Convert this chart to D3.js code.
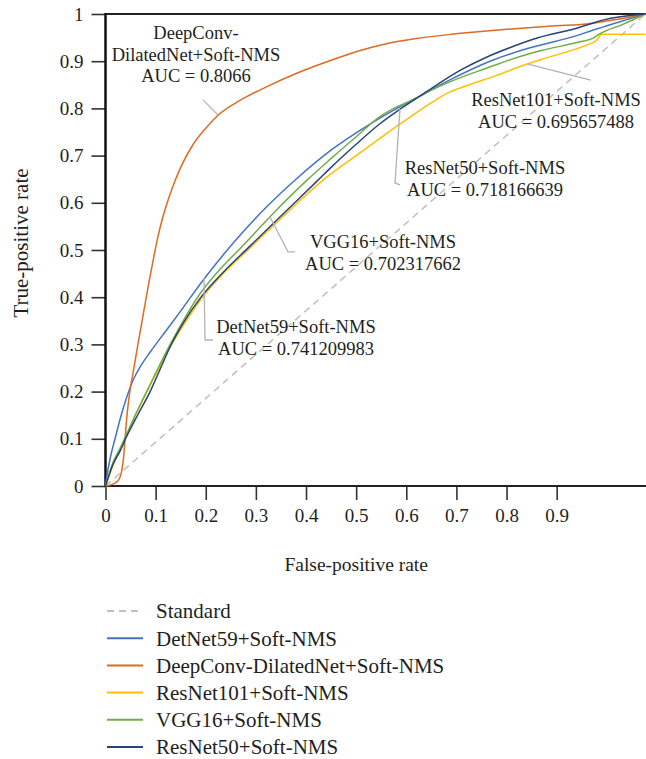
<!DOCTYPE html>
<html><head><meta charset="utf-8">
<script src="https://cdn.jsdelivr.net/npm/d3@7"></script>
<style>
body{margin:0;background:#fff}
svg{display:block}
text{font-family:"Liberation Serif","Times New Roman",serif;fill:#231f20}
</style>
</head><body>
<svg id="chart" width="646" height="759"></svg>
<script>
// ---------- data ----------
const seriesNames = ["Standard","DetNet59+Soft-NMS","DeepConv-DilatedNet+Soft-NMS","ResNet101+Soft-NMS","VGG16+Soft-NMS","ResNet50+Soft-NMS"];
const seriesColors = ["#bfbfbf","#4472c4","#dd6b20","#ffc000","#70ad47","#264478"];
const xTicks = [0,0.1,0.2,0.3,0.4,0.5,0.6,0.7,0.8,0.9];
const yTicks = [0,0.1,0.2,0.3,0.4,0.5,0.6,0.7,0.8,0.9,1];

const standard = [[0,0],[1.077,1]];
const detNet59 = [[0,0],[0.005,0.035],[0.01,0.062],[0.019,0.1],[0.03,0.145],[0.043,0.19],[0.055,0.224],[0.07,0.254],[0.09,0.285],[0.12,0.328],[0.155,0.378],[0.189,0.428],[0.235,0.49],[0.28,0.545],[0.322,0.592],[0.38,0.65],[0.448,0.71],[0.5,0.748],[0.548,0.78],[0.59,0.805],[0.627,0.826],[0.69,0.862],[0.767,0.9],[0.827,0.922],[0.867,0.934],[0.933,0.952],[0.973,0.966],[1.0,0.975],[1.077,1]];
const deepConv = [[0,0],[0.012,0.003],[0.024,0.01],[0.032,0.03],[0.036,0.06],[0.039,0.1],[0.042,0.14],[0.046,0.18],[0.05,0.21],[0.055,0.24],[0.065,0.302],[0.075,0.362],[0.085,0.422],[0.095,0.478],[0.105,0.53],[0.115,0.572],[0.13,0.622],[0.15,0.675],[0.175,0.724],[0.2,0.758],[0.225,0.786],[0.27,0.818],[0.32,0.845],[0.385,0.876],[0.45,0.902],[0.5,0.92],[0.56,0.937],[0.62,0.948],[0.69,0.957],[0.76,0.964],[0.83,0.97],[0.9,0.975],[0.96,0.979],[1.0,0.985],[1.04,0.992],[1.077,1]];
const resNet101 = [[0,0],[0.015,0.043],[0.03,0.079],[0.04,0.103],[0.06,0.15],[0.085,0.205],[0.108,0.253],[0.132,0.3],[0.163,0.353],[0.195,0.402],[0.24,0.456],[0.289,0.505],[0.36,0.577],[0.434,0.648],[0.5,0.7],[0.548,0.737],[0.6,0.776],[0.647,0.81],[0.681,0.832],[0.72,0.848],[0.78,0.87],[0.841,0.894],[0.867,0.903],[0.933,0.924],[0.96,0.934],[0.98,0.945],[0.99,0.957],[1.077,0.957]];
const vgg16 = [[0,0],[0.015,0.05],[0.03,0.082],[0.04,0.105],[0.06,0.152],[0.082,0.2],[0.105,0.25],[0.129,0.3],[0.155,0.35],[0.185,0.402],[0.225,0.455],[0.272,0.507],[0.335,0.578],[0.402,0.648],[0.448,0.692],[0.5,0.74],[0.548,0.783],[0.575,0.8],[0.6,0.812],[0.627,0.826],[0.661,0.844],[0.7,0.862],[0.76,0.885],[0.827,0.91],[0.867,0.922],[0.946,0.941],[0.973,0.949],[0.986,0.958],[1.032,0.978],[1.077,1]];
const resNet50 = [[0,0],[0.015,0.046],[0.03,0.076],[0.04,0.1],[0.065,0.152],[0.089,0.2],[0.11,0.25],[0.129,0.295],[0.155,0.345],[0.189,0.398],[0.235,0.453],[0.285,0.505],[0.35,0.572],[0.424,0.648],[0.448,0.673],[0.5,0.724],[0.548,0.768],[0.587,0.798],[0.627,0.826],[0.661,0.85],[0.71,0.882],[0.761,0.909],[0.81,0.93],[0.861,0.949],[0.94,0.97],[0.973,0.981],[0.992,0.987],[1.077,1]];
const seriesData = [standard, detNet59, deepConv, resNet101, vgg16, resNet50];

const annotations = [
  {lines:["DeepConv-","DilatedNet+Soft-NMS","AUC = 0.8066"], at:[0.1805,0.96], leader:[[0.1945,0.818],[0.2244,0.786]]},
  {lines:["ResNet101+Soft-NMS","AUC = 0.695657488"], at:[0.8987,0.818], leader:[[0.843,0.894],[0.968,0.860]]},
  {lines:["ResNet50+Soft-NMS","AUC = 0.718166639"], at:[0.757,0.674], leader:[[0.5875,0.799],[0.5775,0.642],[0.5875,0.638]]},
  {lines:["VGG16+Soft-NMS","AUC = 0.702317662"], at:[0.5536,0.5176], leader:[[0.328,0.5705],[0.364,0.496],[0.378,0.496]]},
  {lines:["DetNet59+Soft-NMS","AUC = 0.741209983"], at:[0.380,0.3375], leader:[[0.1965,0.44],[0.1985,0.3093],[0.2144,0.3093]]}
];

// ---------- layout ----------
const W = 646, H = 759;
const svg = d3.select("#chart");
const x = d3.scaleLinear().domain([0,1]).range([105.5, 606.8]);
const y = d3.scaleLinear().domain([0,1]).range([486, 14]);

// axes
const fmt = d => d === 0 ? "0" : (d === 1 ? "1" : d3.format(".1f")(d));
const gx = svg.append("g").attr("transform", `translate(0,${y(0)})`)
  .call(d3.axisBottom(x).tickValues(xTicks).tickFormat(fmt).tickSize(14).tickPadding(9));
const gy = svg.append("g").attr("transform", `translate(${x(0)},0)`)
  .call(d3.axisLeft(y).tickValues(yTicks).tickFormat(fmt).tickSize(14).tickPadding(8));
[gx, gy].forEach(g => {
  g.attr("font-family", null).attr("font-size", null);
  g.select(".domain").remove();
  g.selectAll(".tick line").attr("stroke", "#333").attr("stroke-width", 1.6);
  g.selectAll(".tick text").attr("font-size", 19).attr("fill", "#231f20");
});

// frame lines
svg.append("line").attr("x1", x(0)).attr("x2", W).attr("y1", y(1)).attr("y2", y(1)).attr("stroke", "#222").attr("stroke-width", 2);
svg.append("line").attr("x1", x(0)).attr("x2", W).attr("y1", y(0)).attr("y2", y(0)).attr("stroke", "#222").attr("stroke-width", 2);
svg.append("line").attr("x1", x(0)).attr("x2", x(0)).attr("y1", y(0) + 1).attr("y2", y(1) - 1).attr("stroke", "#111").attr("stroke-width", 2.5);

// curves
const line = d3.line().x(d => x(d[0])).y(d => y(d[1])).curve(d3.curveMonotoneX);
seriesData.forEach((data, i) => {
  svg.append("path").datum(data)
    .attr("d", line)
    .attr("fill", "none")
    .attr("stroke", seriesColors[i])
    .attr("stroke-width", 1.5)
    .attr("stroke-dasharray", i === 0 ? "7,5" : null);
});

// annotations
const leader = d3.line().x(d => x(d[0])).y(d => y(d[1]));
annotations.forEach(a => {
  svg.append("path").attr("d", leader(a.leader))
    .attr("fill", "none").attr("stroke", "#b3b3b3").attr("stroke-width", 1.3);
  const t = svg.append("text").attr("text-anchor", "middle").attr("font-size", 18.5)
    .attr("x", x(a.at[0])).attr("y", y(a.at[1]));
  a.lines.forEach((l, j) => {
    t.append("tspan").attr("x", x(a.at[0])).attr("y", y(a.at[1]) + j * 21.5).attr("dy", "0.35em").text(l);
  });
});

// axis titles
svg.append("text").attr("x", x(0.5)).attr("y", 571).attr("text-anchor", "middle")
  .attr("font-size", 19.5).text("False-positive rate");
svg.append("text").attr("transform", `translate(28,${243}) rotate(-90)`).attr("text-anchor", "middle")
  .attr("font-size", 21).text("True-positive rate");

// legend
const lg = svg.append("g");
seriesNames.forEach((name, i) => {
  const cy = 611 + i * 27.2;
  lg.append("line").attr("x1", 107).attr("x2", 143).attr("y1", cy).attr("y2", cy)
    .attr("stroke", seriesColors[i]).attr("stroke-width", 2)
    .attr("stroke-dasharray", i === 0 ? "7,5" : null);
  lg.append("text").attr("x", 156).attr("y", cy).attr("dy", "0.35em")
    .attr("font-size", 21).text(name);
});
</script>
</body></html>
